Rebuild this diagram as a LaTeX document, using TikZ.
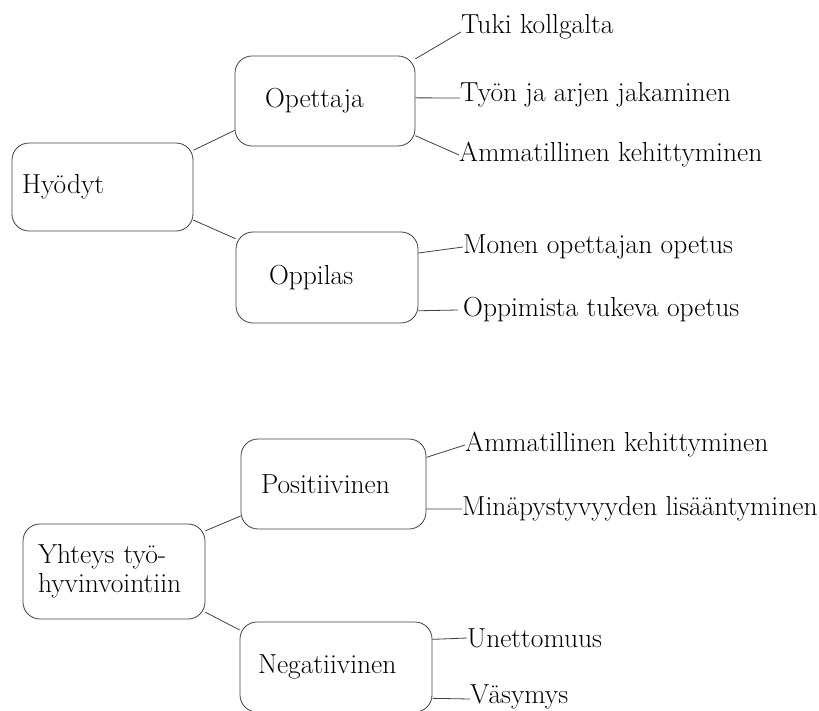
\documentclass[tikz,border=0pt]{standalone}
\usepackage{tikz}
\usetikzlibrary{positioning}

\tikzset{
  box/.style={draw=black!75, line width=0.8pt, rounded corners=17pt,
    align=left, inner ysep=0pt, font=\fontsize{27.5}{29}\selectfont},
  leaf/.style={anchor=west, inner sep=0pt, font=\fontsize{27.5}{29}\selectfont},
  link/.style={draw=black!75, line width=0.8pt}
}

\begin{document}
\begin{tikzpicture}[x=1pt, y=-1pt]
  % page in pixel units, y down
  \useasboundingbox (0,0) rectangle (819,711);
  \clip (0,0) rectangle (819,711);

  % upper tree
  \node[box, minimum height=88, text width=161, inner xsep=10] (hyo) at (102.5,187) {Hyödyt};
  \node[box, minimum height=90, text width=120, inner xsep=30] (ope) at (325,101) {Opettaja};
  \node[box, minimum height=91, text width=116, inner xsep=33] (opp) at (327,277.5) {Oppilas};

  \node[leaf] (tuki)  at (461,27)  {Tuki kollgalta};
  \node[leaf] (tyon)  at (460,95)  {Työn ja arjen jakaminen};
  \node[leaf] (amm1)  at (459,155) {Ammatillinen kehittyminen};
  \node[leaf] (monen) at (463,247) {Monen opettajan opetus};
  \node[leaf] (oppim) at (463,310) {Oppimista tukeva opetus};

  \draw[link] (hyo.22) -- (ope.198);
  \draw[link] (hyo.340) -- (opp.157);
  \draw[link] (ope.25) -- ([yshift=-5pt]tuki.west);
  \draw[link] (ope.2) -- ([yshift=-3pt]tyon.west);
  \draw[link] (ope.-21) -- (amm1.west);
  \draw[link] (opp.15) -- (monen.west);
  \draw[link] (opp.-20) -- ([xshift=-5pt]oppim.west);

  % lower tree
  \node[box, minimum height=95, text width=152, inner xsep=15] (yht) at (114,571.5) {Yhteys työ-\\hyvinvointiin};
  \node[box, minimum height=90, text width=145, inner xsep=20] (pos) at (333.5,484) {Positiivinen};
  \node[box, minimum height=90, text width=156, inner xsep=18] (neg) at (336,667) {Negatiivinen};

  \node[leaf] (amm2) at (465,445) {Ammatillinen kehittyminen};
  \node[leaf] (mina) at (462,509) {Minäpystyvyyden lisääntyminen};
  \node[leaf] (unet) at (467,638) {Unettomuus};
  \node[leaf] (vas)  at (470,697) {Väsymys};

  \draw[link] (yht.24) -- (pos.199);
  \draw[link] (yht.336) -- (neg.159);
  \draw[link] (pos.16) -- (amm2.west);
  \draw[link] (pos.-15) -- (mina.west);
  \draw[link] (neg.16) -- (unet.west);
  \draw[link] (neg.-18) -- ([yshift=-2pt]vas.west);
\end{tikzpicture}
\end{document}
